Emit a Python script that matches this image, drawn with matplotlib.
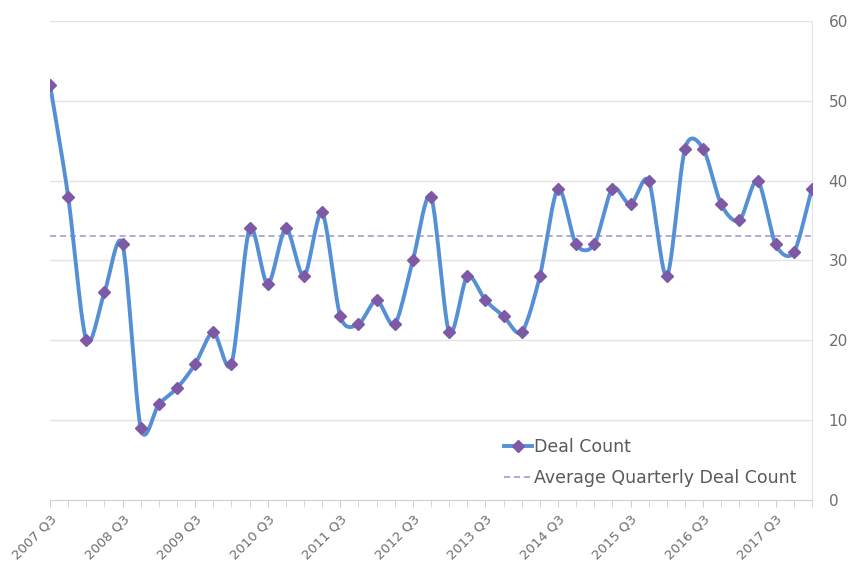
import matplotlib.pyplot as plt
import numpy as np

# Quarterly deal counts, 2007 Q3 - 2018 Q1
quarters = []
for y in range(2007, 2019):
    for q in range(1, 5):
        quarters.append(f'{y} Q{q}')
quarters = quarters[2:2 + 43]
deal_count = [52, 38, 20, 26, 32, 9, 12, 14, 17, 21, 17, 34, 27, 34, 28, 36,
              23, 22, 25, 22, 30, 38, 21, 28, 25, 23, 21, 28, 39, 32, 32, 39,
              37, 40, 28, 44, 44, 37, 35, 40, 32, 31, 39]
avg_deal_count = 33
y_ticks = [0, 10, 20, 30, 40, 50, 60]


def smooth(xs, ys, n=24, k=0.85):
    # cubic bezier through the points, tangents like catmull-rom scaled by k
    xs = np.asarray(xs, float)
    ys = np.asarray(ys, float)
    px = np.concatenate([[2 * xs[0] - xs[1]], xs, [2 * xs[-1] - xs[-2]]])
    py = np.concatenate([[2 * ys[0] - ys[1]], ys, [2 * ys[-1] - ys[-2]]])
    t = np.linspace(0, 1, n, endpoint=False)[:, None]
    out = []
    for i in range(1, len(px) - 2):
        p0 = np.array([px[i - 1], py[i - 1]])
        p1 = np.array([px[i], py[i]])
        p2 = np.array([px[i + 1], py[i + 1]])
        p3 = np.array([px[i + 2], py[i + 2]])
        c1 = p1 + k * (p2 - p0) / 6
        c2 = p2 - k * (p3 - p1) / 6
        out.append((1 - t) ** 3 * p1 + 3 * (1 - t) ** 2 * t * c1
                   + 3 * (1 - t) * t ** 2 * c2 + t ** 3 * p2)
    out.append([[xs[-1], ys[-1]]])
    out = np.vstack(out)
    return out[:, 0], out[:, 1]


x = np.arange(len(deal_count))
sx, sy = smooth(x, deal_count)

fig = plt.figure(figsize=(8.48, 5.63), dpi=100)
ax = fig.add_axes([0.059, 0.112, 0.8985, 0.851])

grid_c = '#e3e3e3'
text_c = '#6e6e6e'

ax.plot(sx, sy, color='#5590d6', lw=2.8, solid_capstyle='round', zorder=3)
ax.plot(x, deal_count, ls='none', marker='D', ms=6.5, color='#7e5aa6', zorder=4)
line_leg, = ax.plot([], [], color='#5590d6', lw=2.8, marker='D', ms=6,
                    mfc='#7e5aa6', mec='#7e5aa6', label='Deal Count')
ax.axhline(avg_deal_count, color='#a090d4', lw=1.1, ls=(0, (4, 2.5)),
           label='Average Quarterly Deal Count', zorder=2)

ax.set_xlim(0, len(deal_count) - 1)
ax.set_ylim(0, 60)
ax.yaxis.tick_right()
ax.set_yticks(y_ticks)
ax.tick_params(axis='y', length=0, labelsize=11, labelcolor=text_c, pad=12)
for v in y_ticks[1:]:
    ax.axhline(v, color=grid_c, lw=1, zorder=1)

major = x[::4]
ax.set_xticks(major)
ax.set_xticklabels([quarters[i] for i in major], rotation=45, ha='right',
                   rotation_mode='anchor', fontsize=9.5, color=text_c)
ax.set_xticks(x, minor=True)
ax.tick_params(axis='x', which='both', length=5, color='#d0d0d0', pad=4)

for s in ['top', 'left']:
    ax.spines[s].set_visible(False)
ax.spines['bottom'].set_color('#d0d0d0')
ax.spines['right'].set_color(grid_c)

handles, labels = ax.get_legend_handles_labels()
leg = ax.legend(handles, labels, loc='lower right', bbox_to_anchor=(1.0, -0.005),
                frameon=False, fontsize=12.5, handlelength=1.6, handletextpad=0.1,
                labelspacing=0.75)
for t in leg.get_texts():
    t.set_color('#595959')

fig.savefig('out.png', dpi=100)
